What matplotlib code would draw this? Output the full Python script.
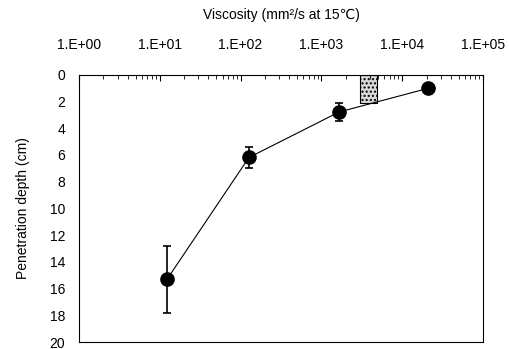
import matplotlib
matplotlib.use("Agg")
from matplotlib import pyplot as plt
import numpy as np

plt.rcParams['font.family'] = ['Liberation Sans', 'DejaVu Sans']

# data
viscosity = [12.3, 127, 1660, 21000]
depth = [15.3, 6.2, 2.8, 1.03]
depth_err = [2.5, 0.8, 0.7, 0.0]

# shaded range
box_x = [3000, 4900]
box_depth = 2.1

x_ticks = [1e0, 1e1, 1e2, 1e3, 1e4, 1e5]
x_labels = ["1.E+00", "1.E+01", "1.E+02", "1.E+03", "1.E+04", "1.E+05"]
y_ticks = list(range(0, 21, 2))

fig = plt.figure(figsize=(5.1, 3.49), dpi=100)
ax = fig.add_axes([0.155, 0.02, 0.792, 0.7665])

ax.fill_between(box_x, 0, box_depth, facecolor="#d8d8d8", edgecolor="black",
                hatch="....", linewidth=0.8)
ax.errorbar(viscosity, depth, yerr=depth_err, color="black", lw=0.8,
            marker="o", markersize=9.5, capsize=3, elinewidth=1.2, capthick=1.2)

ax.set_xscale("log")
ax.set_xlim(1, 1e5)
ax.set_ylim(20, 0)
ax.xaxis.set_ticks_position("top")
ax.xaxis.set_label_position("top")
ax.set_xticks(x_ticks)
ax.set_xticklabels(x_labels, fontsize=10)
ax.set_yticks(y_ticks)
ax.set_yticklabels([str(v) for v in y_ticks], fontsize=10)
ax.tick_params(axis="x", which="major", direction="in", length=4, pad=16)
ax.tick_params(axis="x", which="minor", direction="in", length=3)
ax.tick_params(axis="y", length=0, pad=10)
for s in ax.spines.values():
    s.set_linewidth(0.8)

ax.set_xlabel("Viscosity (mm²/s at 15℃)", fontsize=10, labelpad=14)
ax.set_ylabel("Penetration depth (cm)", fontsize=10, labelpad=14)

fig.savefig("out.png", dpi=100)
